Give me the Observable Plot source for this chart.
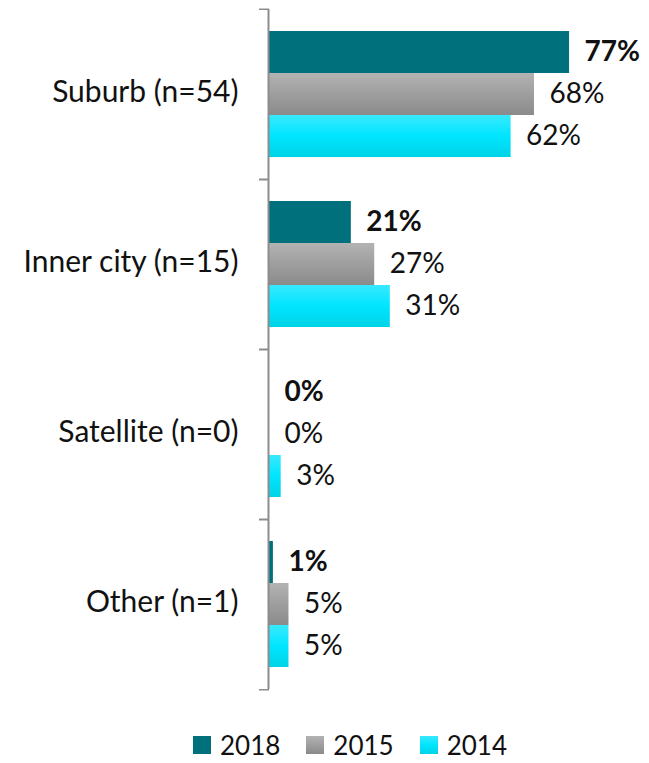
<!DOCTYPE html>
<html>
<head>
<meta charset="utf-8">
<script src="https://cdn.jsdelivr.net/npm/d3@7"></script>
<script src="https://cdn.jsdelivr.net/npm/@observablehq/plot@0.6"></script>
<style>
  body { margin: 0; background: #fff; font-family: Lato, "Open Sans", sans-serif; }
  #legend { display: flex; align-items: center; height: 26px; margin-top: 32px; padding-left: 193px; font-size: 26px; line-height: 26px; color: #111; }
  .item { display: flex; align-items: center; margin-right: 26px; }
  .sw { width: 18px; height: 18px; margin-right: 9px; }
</style>
</head>
<body>
<div id="chart"></div>
<div id="legend"></div>
<script>
const categories = ["Suburb (n=54)", "Inner city (n=15)", "Satellite (n=0)", "Other (n=1)"];
const series = ["2018", "2015", "2014"];
const values2018 = [77, 21, 0, 1];
const values2015 = [68, 27, 0, 5];
const values2014 = [62, 31, 3, 5];

const valuesBySeries = {"2018": values2018, "2015": values2015, "2014": values2014};
const data = [];
categories.forEach((c, i) => {
  series.forEach(s => data.push({category: c, series: s, value: valuesBySeries[s][i]}));
});

const fills = ["#00707d", "url(#g2015)", "url(#g2014)"];
const cssFills = ["#00707d", "linear-gradient(#b3b3b3, #8a8a8a)", "linear-gradient(#38e9ff, #00e5ff 50%, #00d3e6)"];

const height = 700, marginTop = 8, marginBottom = 10;
const halfStep = (height - marginTop - marginBottom) / categories.length / 2;

const chart = Plot.plot({
  width: 649,
  height,
  marginTop,
  marginBottom,
  marginLeft: 269,
  marginRight: 2,
  style: {fontFamily: "Lato, 'Open Sans', sans-serif", fontSize: "28px", color: "#111"},
  x: {domain: [0, 97], axis: null},
  fy: {domain: categories, padding: 0, axis: null},
  y: {domain: series, paddingInner: 0, paddingOuter: 0.48, axis: null},
  color: {domain: series, range: fills},
  marks: [
    Plot.barX(data, {fy: "category", y: "series", x: "value", fill: "series"}),
    Plot.ruleX([0], {stroke: "#8c8c8c", strokeWidth: 2, dx: -1}),
    Plot.text(data.filter(d => d.series === "2018"), {fy: "category", y: "series", x: "value", text: d => d.value + "%", dx: 15, textAnchor: "start", fontWeight: "bold", fill: "#111"}),
    Plot.text(data.filter(d => d.series !== "2018"), {fy: "category", y: "series", x: "value", text: d => d.value + "%", dx: 15, textAnchor: "start", fill: "#111"}),
    Plot.axisFy({anchor: "left", tickSize: 0, tickPadding: 31, fill: "#111", fontSize: 30, label: null, dy: -2}),
    Plot.axisFy({anchor: "left", tickSize: 10, tickFormat: () => "", label: null, dy: -halfStep, stroke: "#8c8c8c", strokeWidth: 1.5}),
    Plot.axisFy({anchor: "left", tickSize: 10, tickFormat: () => "", label: null, dy: halfStep, stroke: "#8c8c8c", strokeWidth: 1.5})
  ]
});

const svg = chart.tagName.toLowerCase() === "svg" ? chart : chart.querySelector("svg");
const ns = "http://www.w3.org/2000/svg";
const defs = document.createElementNS(ns, "defs");
function grad(id, stops) {
  const g = document.createElementNS(ns, "linearGradient");
  g.setAttribute("id", id);
  g.setAttribute("x1", "0"); g.setAttribute("y1", "0");
  g.setAttribute("x2", "0"); g.setAttribute("y2", "1");
  stops.forEach(([o, c]) => {
    const s = document.createElementNS(ns, "stop");
    s.setAttribute("offset", o);
    s.setAttribute("stop-color", c);
    g.appendChild(s);
  });
  defs.appendChild(g);
}
grad("g2015", [["0", "#b3b3b3"], ["1", "#8a8a8a"]]);
grad("g2014", [["0", "#38e9ff"], ["0.5", "#00e5ff"], ["1", "#00d3e6"]]);
svg.insertBefore(defs, svg.firstChild);
document.getElementById("chart").appendChild(chart);

const legend = document.getElementById("legend");
series.forEach((s, i) => {
  const item = document.createElement("div");
  item.className = "item";
  const sw = document.createElement("div");
  sw.className = "sw";
  sw.style.background = cssFills[i];
  const t = document.createElement("span");
  t.textContent = s;
  item.appendChild(sw);
  item.appendChild(t);
  legend.appendChild(item);
});
</script>
</body>
</html>
